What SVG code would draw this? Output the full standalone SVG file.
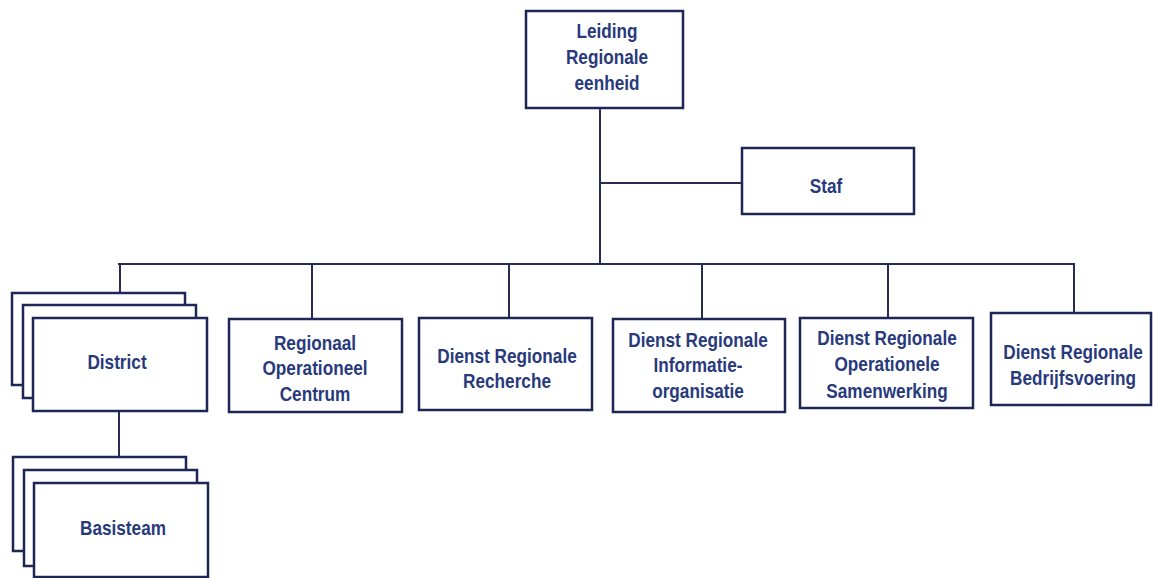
<svg xmlns="http://www.w3.org/2000/svg" width="1153" height="578" viewBox="0 0 1153 578">
<style>
.box{fill:#ffffff;stroke:#1e2656;stroke-width:2.5}
.ln{fill:none;stroke:#262c55;stroke-width:2}
text{font-family:"Liberation Sans",Arial,sans-serif;font-weight:bold;font-size:20px;fill:#283a7c;text-anchor:middle}
</style>
<rect width="1153" height="578" fill="#ffffff"/>
<g id="connectors">
<path class="ln" d="M600,108 V264"/>
<path class="ln" d="M600,183 H742"/>
<path class="ln" d="M118,264 H1074 V313"/>
<path class="ln" d="M120,264 V293"/>
<path class="ln" d="M312,264 V319"/>
<path class="ln" d="M509,264 V323"/>
<path class="ln" d="M702,264 V319"/>
<path class="ln" d="M888,264 V318"/>
<path class="ln" d="M119,411 V457"/>
</g>
<g id="leiding">
<rect class="box" x="526" y="11" width="157" height="97"/>
<g transform="translate(607 0) scale(0.86 1)">
<text x="0" y="38">Leiding</text>
<text x="0" y="64">Regionale</text>
<text x="0" y="90">eenheid</text>
</g>
</g>
<g id="staf">
<rect class="box" x="742" y="148" width="172" height="66"/>
<g transform="translate(826 0) scale(0.86 1)">
<text x="0" y="193">Staf</text>
</g>
</g>
<g id="district">
<rect class="box" x="12" y="293" width="173" height="92"/>
<rect class="box" x="23" y="305" width="173" height="93"/>
<rect class="box" x="33" y="318" width="174" height="93"/>
<g transform="translate(117 0) scale(0.86 1)">
<text x="0" y="369">District</text>
</g>
</g>
<g id="basisteam">
<rect class="box" x="13" y="457" width="173" height="94"/>
<rect class="box" x="24" y="470" width="173" height="96"/>
<rect class="box" x="34" y="483" width="174" height="94"/>
<g transform="translate(123 0) scale(0.86 1)">
<text x="0" y="535">Basisteam</text>
</g>
</g>
<g id="roc">
<rect class="box" x="229" y="319" width="173" height="93"/>
<g transform="translate(315 0) scale(0.86 1)">
<text x="0" y="350">Regionaal</text>
<text x="0" y="375">Operationeel</text>
<text x="0" y="401">Centrum</text>
</g>
</g>
<g id="drr">
<rect class="box" x="419" y="318" width="173" height="92"/>
<g transform="translate(507 0) scale(0.86 1)">
<text x="0" y="363">Dienst Regionale</text>
<text x="0" y="388">Recherche</text>
</g>
</g>
<g id="dri">
<rect class="box" x="613" y="319" width="172" height="93"/>
<g transform="translate(698 0) scale(0.86 1)">
<text x="0" y="347">Dienst Regionale</text>
<text x="0" y="372">Informatie-</text>
<text x="0" y="398">organisatie</text>
</g>
</g>
<g id="dros">
<rect class="box" x="800" y="318" width="173" height="90"/>
<g transform="translate(887 0) scale(0.86 1)">
<text x="0" y="345">Dienst Regionale</text>
<text x="0" y="371">Operationele</text>
<text x="0" y="398">Samenwerking</text>
</g>
</g>
<g id="drb">
<rect class="box" x="991" y="313" width="160" height="92"/>
<g transform="translate(1073 0) scale(0.86 1)">
<text x="0" y="359">Dienst Regionale</text>
<text x="0" y="385">Bedrijfsvoering</text>
</g>
</g>
</svg>
